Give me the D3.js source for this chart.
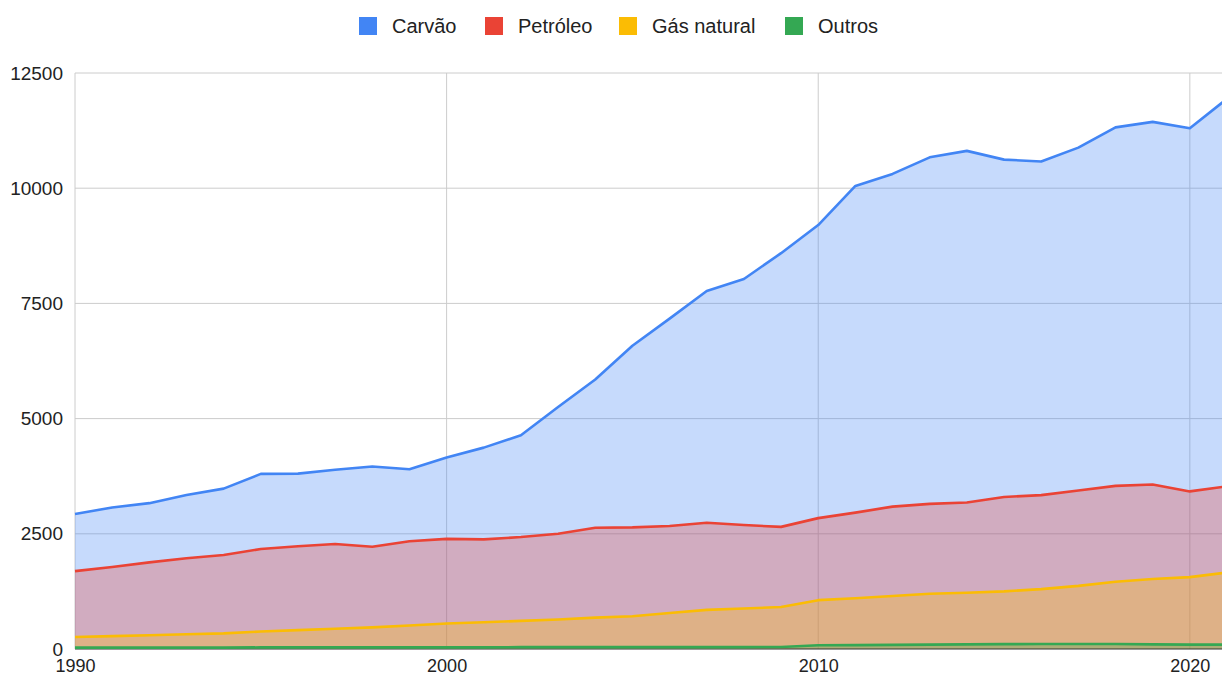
<!DOCTYPE html>
<html>
<head>
<meta charset="utf-8">
<script src="https://cdn.jsdelivr.net/npm/d3@7"></script>
<style>
  body { margin: 0; background: #fff; }
  svg { display: block; font-family: "Liberation Sans", Arial, sans-serif; }
</style>
</head>
<body>
<svg id="svg" width="1222" height="677"></svg>
<script>
// data
const years = d3.range(1990, 2022);
const carvao = [2930, 3070, 3165, 3340, 3480, 3800, 3805, 3890, 3960, 3900,
                4155, 4370, 4640, 5250, 5850, 6580, 7170, 7770, 8030, 8590,
                9200, 10050, 10310, 10670, 10810, 10620, 10580, 10880, 11320, 11440,
                11300, 11940];
const petroleo = [1690, 1780, 1880, 1970, 2040, 2170, 2230, 2280, 2220, 2340,
                  2390, 2380, 2430, 2500, 2630, 2640, 2670, 2740, 2690, 2650,
                  2840, 2960, 3090, 3150, 3180, 3300, 3340, 3440, 3540, 3570,
                  3420, 3530];
const gas = [260, 280, 300, 320, 340, 380, 410, 440, 470, 510,
             555, 580, 610, 640, 680, 710, 780, 850, 880, 910,
             1060, 1100, 1150, 1200, 1220, 1250, 1300, 1370, 1460, 1520,
             1560, 1660];
const outros = [30, 30, 30, 30, 30, 35, 35, 35, 35, 35,
                35, 35, 40, 40, 40, 40, 40, 40, 40, 45,
                80, 85, 90, 95, 100, 105, 110, 110, 110, 100,
                95, 95];
const seriesNames = ["Carvão", "Petróleo", "Gás natural", "Outros"];
const seriesColors = ["#4285F4", "#EA4335", "#FBBC04", "#34A853"];
const yTicks = [0, 2500, 5000, 7500, 10000, 12500];
const xTicks = [1990, 2000, 2010, 2020];

const allSeries = [carvao, petroleo, gas, outros];

const svg = d3.select("#svg");
const plotLeft = 75, plotTop = 73, plotBottom = 649;

const x = d3.scaleLinear().domain([1990, 2021]).range([plotLeft, 1227]);
const y = d3.scaleLinear().domain([0, 12500]).range([plotBottom, plotTop]);

// grid
svg.append("g").selectAll("line").data(yTicks.slice(1)).join("line")
    .attr("x1", plotLeft).attr("x2", 1222)
    .attr("y1", d => y(d)).attr("y2", d => y(d))
    .attr("stroke", "#cccccc").attr("stroke-width", 1);
svg.append("g").selectAll("line").data(xTicks).join("line")
    .attr("x1", d => x(d)).attr("x2", d => x(d))
    .attr("y1", plotTop).attr("y2", plotBottom)
    .attr("stroke", "#cccccc").attr("stroke-width", 1);

// areas then lines
const area = d3.area().x((d, i) => x(years[i])).y0(y(0)).y1(d => y(d));
const line = d3.line().x((d, i) => x(years[i])).y(d => y(d));

allSeries.forEach((s, k) => {
    svg.append("path").attr("d", area(s))
        .attr("fill", seriesColors[k]).attr("fill-opacity", 0.3);
});

// baseline
svg.append("line").attr("x1", plotLeft).attr("x2", 1222)
    .attr("y1", y(0)).attr("y2", y(0))
    .attr("stroke", "#333333").attr("stroke-width", 1);

allSeries.forEach((s, k) => {
    svg.append("path").attr("d", line(s))
        .attr("fill", "none").attr("stroke", seriesColors[k])
        .attr("stroke-width", 2.6).attr("stroke-linejoin", "round");
});

// y axis labels
const yAxis = d3.axisLeft(y).tickValues(yTicks).tickSize(0).tickPadding(12)
    .tickFormat(d3.format("d"));
svg.append("g").attr("transform", `translate(${plotLeft},0)`).call(yAxis)
    .call(g => g.select(".domain").remove())
    .selectAll("text").style("font-size", "19px").attr("fill", "#222");

// x axis labels
const xAxis = d3.axisBottom(x).tickValues(xTicks).tickSize(0).tickPadding(10)
    .tickFormat(d3.format("d"));
svg.append("g").attr("transform", `translate(0,${plotBottom})`).call(xAxis)
    .call(g => g.select(".domain").remove())
    .selectAll("text").style("font-size", "18px").attr("fill", "#222");

// legend
const legendX = [359, 485, 619, 785];
const legend = svg.append("g");
seriesNames.forEach((name, k) => {
    legend.append("rect").attr("x", legendX[k]).attr("y", 17)
        .attr("width", 18).attr("height", 18).attr("fill", seriesColors[k]);
    legend.append("text").attr("x", legendX[k] + 33).attr("y", 26)
        .attr("dy", "0.35em").style("font-size", "20px").attr("fill", "#222")
        .text(name);
});
</script>
</body>
</html>
